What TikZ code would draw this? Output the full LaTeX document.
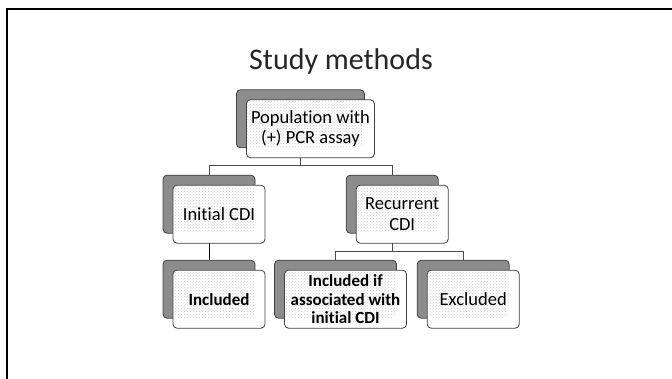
\documentclass[tikz,border=0pt]{standalone}
\usepackage{fontspec}
\setmainfont{Carlito}[Ligatures=NoCommon]
\usetikzlibrary{patterns}

\begin{document}
\begin{tikzpicture}[x=1pt,y=1pt,
    back/.style={draw=black!75, fill=black!45, line width=0.8pt, rounded corners=4pt, minimum height=58pt, minimum width=92pt},
    front/.style={draw=black!75, fill=white, line width=0.8pt, rounded corners=4pt, minimum height=58pt, minimum width=92pt, inner sep=1pt, align=center, font=\fontsize{18.5}{20.5}\selectfont},
    dots/.style={path picture={\fill[pattern=crosshatch dots, pattern color=black!20] ([shift={(-1,1)}]#1.south east) rectangle ([shift={(1,-1)}]path picture bounding box.north west);}},
    link/.style={draw=black!70, line width=0.8pt}]
  \useasboundingbox (0,0) rectangle (672,379);
  \draw[line width=2.5pt] (672,370) -- (7,370) -- (7,0);
  \node[anchor=base, font=\fontsize{30}{36}\selectfont, text=black!85] (title) at (341,309) {Study methods};

  % back boxes
  \node[back, minimum width=128pt] (popb) at (300.4,260.2) {};
  \node[back] (initb) at (209,174.8) {};
  \node[back] (recb) at (392.2,174.8) {};
  \node[back] (inclb) at (209,89.8) {};
  \node[back, minimum width=122pt] (iffb) at (335.5,89.8) {};
  \node[back] (exclb) at (463.2,89.8) {};

  % links
  \draw[link] (popb.south) -- ++(0,-17.7) -| (initb.north);
  \draw[link] (popb.south) -- ++(0,-17.7) -| (recb.north);
  \draw[link, draw=black] (initb.south) -- (inclb.north);
  \draw[link] (recb.south) -- ++(0,-18.2) -| (iffb.north);
  \draw[link] (recb.south) -- ++(0,-18.2) -| (exclb.north);

  % front boxes
  \node[front, minimum width=128pt, dots=popb] (pop) at ([shift={(10,-10)}]popb.center) {Population with\\(+) PCR assay};
  \node[front, dots=initb] (init) at ([shift={(10,-10)}]initb.center) {Initial CDI};
  \node[front, dots=recb] (rec) at ([shift={(10,-10)}]recb.center) {Recurrent\\CDI};
  \node[front, dots=inclb, font=\fontsize{17}{20}\selectfont\bfseries] (incl) at ([shift={(10,-10)}]inclb.center) {Included};
  \node[front, minimum width=122pt, dots=iffb, font=\fontsize{17}{18.3}\selectfont\bfseries] (iff) at ([shift={(10,-10)}]iffb.center) {Included if\\associated with\\initial CDI};
  \node[front, dots=exclb] (excl) at ([shift={(10,-10)}]exclb.center) {Excluded};
\end{tikzpicture}
\end{document}
